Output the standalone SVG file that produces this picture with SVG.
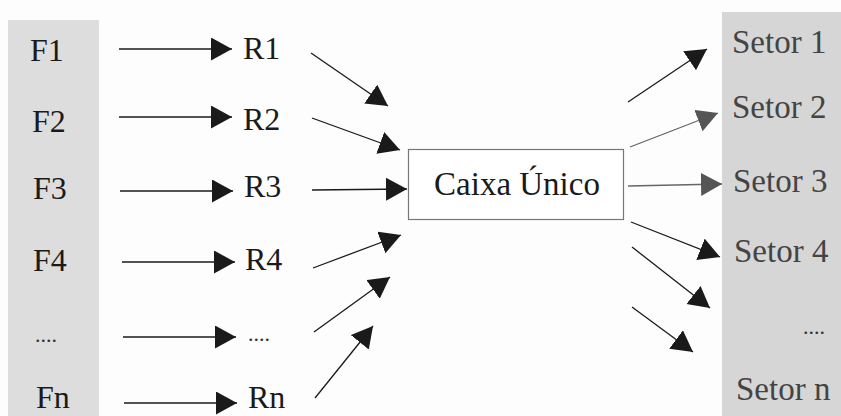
<svg xmlns="http://www.w3.org/2000/svg" width="841" height="416" viewBox="0 0 841 416" font-family="'Liberation Serif', 'Times New Roman', 'DejaVu Serif', serif">
  <style>
    text { font-family: 'Liberation Serif', 'Times New Roman', 'DejaVu Serif', serif; }
    .lbl { font-size: 32px; fill: #1a1a1a; }
    .mid { font-size: 33px; fill: #1a1a1a; }
    .sec { font-size: 33px; fill: #444; }
    .dots { font-size: 22px; fill: #333; }
    .ln { stroke: #1a1a1a; stroke-width: 1.3; fill: none; }
    .ln-grey { stroke: #666; stroke-width: 1.3; fill: none; }
  </style>
  <defs>
    <marker id="head" markerUnits="userSpaceOnUse" markerWidth="22" markerHeight="24" refX="21" refY="11.5" orient="auto">
      <path d="M0,0 L21,11.5 L0,23 Z" fill="#1a1a1a"/>
    </marker>
    <marker id="head-grey" markerUnits="userSpaceOnUse" markerWidth="22" markerHeight="24" refX="21" refY="11.5" orient="auto">
      <path d="M0,0 L21,11.5 L0,23 Z" fill="#555"/>
    </marker>
  </defs>

  <rect width="841" height="416" fill="#fdfdfd"/>

  <!-- source column -->
  <g id="fontes">
    <rect x="8" y="20" width="91" height="396" fill="#dddddd"/>
    <text class="lbl" x="30" y="61">F1</text>
    <text class="lbl" x="32" y="132">F2</text>
    <text class="lbl" x="33" y="199">F3</text>
    <text class="lbl" x="33" y="271">F4</text>
    <text class="dots" x="35" y="342">....</text>
    <text class="lbl" x="36" y="408">Fn</text>
  </g>

  <!-- sector column -->
  <g id="setores">
    <rect x="722" y="12" width="119" height="404" fill="#d6d6d6"/>
    <text class="sec" x="732" y="53">Setor 1</text>
    <text class="sec" x="732" y="118">Setor 2</text>
    <text class="sec" x="733" y="192">Setor 3</text>
    <text class="sec" x="734" y="262">Setor 4</text>
    <text class="dots" x="803" y="334">....</text>
    <text class="sec" x="736" y="400">Setor n</text>
  </g>

  <!-- intermediate labels -->
  <g id="r1"><text class="lbl" x="243" y="59">R1</text></g>
  <g id="r2"><text class="lbl" x="243" y="130">R2</text></g>
  <g id="r3"><text class="lbl" x="244" y="197">R3</text></g>
  <g id="r4"><text class="lbl" x="245" y="270">R4</text></g>
  <g id="rdots"><text class="dots" x="248" y="341">....</text></g>
  <g id="rn"><text class="lbl" x="248" y="408">Rn</text></g>

  <!-- central node -->
  <g id="caixa">
    <rect x="408.5" y="149.5" width="215" height="70" fill="#fff" stroke="#777" stroke-width="1.2"/>
    <text class="mid" x="517" y="195" text-anchor="middle">Caixa Único</text>
  </g>

  <!-- connectors -->
  <g id="conectores">
    <line class="ln" x1="119" y1="49" x2="232" y2="49" marker-end="url(#head)"/>
    <line class="ln" x1="119" y1="117" x2="232" y2="117" marker-end="url(#head)"/>
    <line class="ln" x1="120" y1="191" x2="233" y2="191" marker-end="url(#head)"/>
    <line class="ln" x1="122" y1="262" x2="235" y2="262" marker-end="url(#head)"/>
    <line class="ln" x1="123" y1="337" x2="236" y2="337" marker-end="url(#head)"/>
    <line class="ln" x1="124" y1="403" x2="237" y2="403" marker-end="url(#head)"/>

    <line class="ln" x1="311" y1="53" x2="388" y2="106" marker-end="url(#head)"/>
    <line class="ln" x1="312" y1="118" x2="400" y2="150" marker-end="url(#head)"/>
    <line class="ln" x1="312" y1="190" x2="407" y2="189" marker-end="url(#head)"/>
    <line class="ln" x1="313" y1="268" x2="401" y2="235" marker-end="url(#head)"/>
    <line class="ln" x1="314" y1="332" x2="390" y2="277" marker-end="url(#head)"/>
    <line class="ln" x1="315" y1="398" x2="373" y2="326" marker-end="url(#head)"/>

    <line class="ln" x1="628" y1="102" x2="707" y2="49" marker-end="url(#head)"/>
    <line class="ln-grey" x1="630" y1="147" x2="718" y2="113" marker-end="url(#head-grey)"/>
    <line class="ln-grey" x1="628" y1="186" x2="722" y2="184" marker-end="url(#head-grey)"/>
    <line class="ln" x1="631" y1="222" x2="720" y2="257" marker-end="url(#head)"/>
    <line class="ln" x1="632" y1="247" x2="710" y2="308" marker-end="url(#head)"/>
    <line class="ln" x1="632" y1="307" x2="693" y2="352" marker-end="url(#head)"/>
  </g>
</svg>
